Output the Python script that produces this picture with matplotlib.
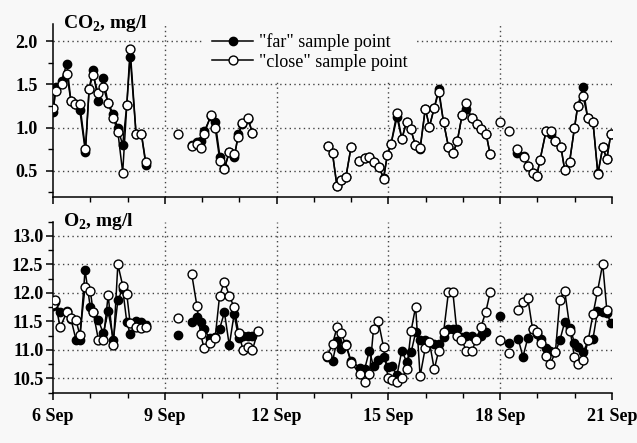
import numpy as np
import matplotlib
matplotlib.use("Agg")
import matplotlib.pyplot as plt
from matplotlib.ticker import MultipleLocator, FuncFormatter, FormatStrFormatter
from matplotlib.lines import Line2D

# sampling times in days of September; None breaks the line between sampling runs
co2_days = [6.01, 6.07, 6.23, 6.37, 6.48, 6.60, 6.72, 6.87, 6.97, 7.07, 7.21, 7.35, 7.48, 7.62,
            7.74, 7.87, 7.98, 8.07, 8.23, 8.37, 8.49, None,
            9.35, None,
            9.72, 9.86, 9.97, 10.06, 10.24, 10.35, 10.48, 10.60, 10.73, 10.87, 10.97, 11.07, 11.23, 11.35, None,
            13.37, 13.50, 13.62, 13.73, 13.86, 14.00, None,
            14.22, 14.36, 14.48, 14.62, 14.75, 14.87, 14.97, 15.07, 15.23, 15.36, 15.49, 15.60, 15.72, 15.85,
            15.99, 16.10, 16.23, 16.35, 16.48, 16.61, 16.74, 16.85, 16.98, 17.07, 17.24, 17.37, 17.49, 17.62,
            17.73, None,
            18.00, None, 18.24, None,
            18.46, 18.63, 18.74, 18.87, 18.98, 19.07, 19.23, 19.37, 19.48, 19.63, 19.73, 19.86, 19.99, 20.08,
            20.22, 20.35, 20.49, 20.62, 20.75, 20.86, 20.97]
co2_far = [1.18, 1.47, 1.54, 1.74, 1.31, 1.27, 1.20, 0.72, 1.45, 1.67, 1.31, 1.57, 1.28, 1.16,
           0.99, 0.80, 1.26, 1.82, 0.92, 0.93, 0.57, None,
           None, None,
           0.80, 0.83, 0.84, 0.96, 1.13, 1.07, 0.66, 0.53, 0.72, 0.66, 0.93, 1.04, 1.10, 0.94, None,
           0.79, 0.70, 0.32, 0.39, 0.43, 0.78, None,
           0.61, 0.65, 0.66, 0.60, 0.54, 0.42, 0.68, 0.81, 1.12, 0.87, 1.07, 0.98, 0.80, 0.75,
           1.22, 1.01, 1.23, 1.45, 1.06, 0.78, 0.71, 0.85, 1.15, 1.21, 1.11, 1.04, 0.98, 0.93,
           0.69, None,
           None, None, None, None,
           0.71, 0.67, 0.55, 0.48, 0.44, 0.63, 0.96, 0.93, 0.84, 0.77, 0.51, 0.60, 0.99, 1.25,
           1.47, 1.11, 1.06, 0.47, 0.77, 0.64, 0.93]
co2_close = [1.23, 1.42, 1.50, 1.62, 1.31, 1.27, 1.27, 0.75, 1.45, 1.61, 1.40, 1.47, 1.28, 1.11,
             0.95, 0.48, 1.26, 1.91, 0.92, 0.93, 0.60, None,
             0.92, None,
             0.79, 0.81, 0.76, 0.93, 1.15, 1.00, 0.61, 0.52, 0.72, 0.69, 0.89, 1.05, 1.11, 0.94, None,
             0.79, 0.70, 0.32, 0.39, 0.43, 0.78, None,
             0.61, 0.65, 0.66, 0.60, 0.54, 0.41, 0.68, 0.81, 1.17, 0.87, 1.07, 0.98, 0.80, 0.76,
             1.22, 1.01, 1.23, 1.41, 1.06, 0.78, 0.70, 0.85, 1.15, 1.28, 1.11, 1.04, 0.98, 0.93,
             0.69, None,
             1.07, None, 0.96, None,
             0.75, 0.66, 0.55, 0.48, 0.44, 0.63, 0.96, 0.96, 0.84, 0.77, 0.51, 0.60, 0.99, 1.25,
             1.37, 1.11, 1.06, 0.46, 0.77, 0.64, 0.93]

o2_days = [6.01, 6.05, 6.19, 6.37, 6.48, 6.62, 6.72, 6.86, 7.00, 7.08, 7.22, 7.35, 7.48, 7.62,
           7.74, 7.87, 7.98, 8.07, 8.23, 8.37, 8.49, None,
           9.35, None,
           9.72, 9.86, 9.96, 10.05, 10.21, 10.35, 10.47, 10.60, 10.73, 10.86, 10.98, 11.10, 11.22, 11.35,
           11.50, None,
           13.35, 13.50, 13.62, 13.73, 13.86, 14.00, 14.24, 14.36, 14.49, 14.60, 14.73, 14.87, 14.99, 15.09,
           15.23, 15.36, 15.49, 15.61, 15.73, 15.85, 15.99, 16.10, 16.23, 16.35, 16.48, 16.61, 16.73, 16.85,
           16.96, 17.09, 17.24, 17.36, 17.48, 17.61, 17.73, None,
           18.00, None, 18.24, None,
           18.48, 18.61, 18.74, 18.87, 18.99, 19.09, 19.22, 19.34, 19.48, 19.60, 19.73, 19.88, 19.99, 20.08,
           20.23, 20.36, 20.49, 20.61, 20.75, 20.86, 20.97]
o2_far = [11.78, 11.85, 11.66, 11.68, 11.55, 11.17, 11.17, 12.40, 11.75, 11.66, 11.52, 11.29, 11.68, 11.18,
          11.87, 12.07, 11.49, 11.28, 11.50, 11.49, 11.44, None,
          11.27, None,
          11.49, 11.57, 11.49, 11.36, 11.21, 11.22, 11.37, 11.66, 11.08, 11.63, 11.21, 11.24, 11.24, 11.25,
          None, None,
          10.87, 10.80, 11.16, 11.02, 11.10, 10.80, 10.69, 10.66, 10.99, 10.71, 10.82, 10.88, 10.70, 10.71,
          10.56, 10.99, 10.79, 10.96, 11.31, 11.18, 11.18, 11.12, 11.10, 11.11, 11.23, 11.36, 11.36, 11.36,
          11.23, 11.24, 11.24, 11.20, 11.24, 11.31, None, None,
          11.59, None, 11.13, None,
          11.20, 10.88, 11.21, 11.37, 11.28, 11.20, 11.03, 10.99, 10.96, 11.17, 11.49, 11.39, 11.12, 11.05,
          10.96, 11.17, 11.20, 11.68, 11.66, 11.65, 11.47]
o2_close = [11.80, 11.88, 11.40, 11.66, 11.56, 11.52, 11.26, 12.10, 12.04, 11.66, 11.17, 11.18, 11.96, 11.08,
            12.50, 12.13, 11.98, 11.47, 11.40, 11.38, 11.40, None,
            11.56, None,
            12.34, 11.78, 11.28, 11.04, 11.13, 11.21, 11.95, 12.20, 11.95, 11.75, 11.30, 11.00, 11.05, 11.00,
            11.33, None,
            10.89, 11.10, 11.40, 11.30, 11.08, 10.78, 10.57, 10.44, 10.57, 11.37, 11.50, 11.05, 10.50, 10.48,
            10.44, 10.50, 10.66, 11.34, 11.76, 10.54, 11.04, 11.14, 10.66, 10.99, 11.31, 12.01, 12.01, 11.24,
            11.18, 10.99, 10.99, 11.18, 11.40, 11.66, 12.01, None,
            11.18, None, 10.94, None,
            11.71, 11.85, 11.91, 11.36, 11.31, 11.12, 10.89, 10.75, 10.96, 11.88, 12.04, 11.33, 10.88, 10.75,
            10.82, 11.17, 11.63, 12.03, 12.51, 11.70, None]

day_ticks = [6, 9, 12, 15, 18, 21]

plt.rcParams["font.family"] = "Liberation Serif"
plt.rcParams["font.weight"] = "bold"
plt.rcParams["mathtext.fontset"] = "custom"
plt.rcParams["mathtext.rm"] = "Liberation Serif"
plt.rcParams["mathtext.bf"] = "Liberation Serif:bold"

bg = "#f8f8f8"
fig = plt.figure(figsize=(6.37, 4.43), dpi=100, facecolor=bg)
ax1 = fig.add_axes([0.0832, 0.556, 0.8776, 0.390])
ax2 = fig.add_axes([0.0832, 0.1135, 0.8776, 0.386])

dots = (0, (1, 2.4))


def draw_panel(ax, days, far, close, ylim, title, show_dates, label_pad):
    t = np.array(days, dtype=float)
    ax.set_facecolor(bg)
    ax.plot(t, np.array(far, dtype=float), "-o", color="k", lw=1.1, ms=6,
            mfc="k", mec="k", mew=1.0, zorder=3)
    ax.plot(t, np.array(close, dtype=float), "-o", color="k", lw=1.1, ms=6.4,
            mfc="white", mec="k", mew=1.0, zorder=4)
    ax.set_xlim(6, 21)
    ax.set_ylim(*ylim)
    for s in ("top", "right"):
        ax.spines[s].set_visible(False)
    for s in ("left", "bottom"):
        ax.spines[s].set_linewidth(1.1)
    ax.xaxis.set_major_locator(MultipleLocator(3))
    ax.xaxis.set_minor_locator(MultipleLocator(1))
    ax.yaxis.set_major_locator(MultipleLocator(0.5))
    ax.yaxis.set_minor_locator(MultipleLocator(0.25))
    ax.yaxis.set_major_formatter(FormatStrFormatter("%.1f"))
    ax.xaxis.set_major_formatter(FuncFormatter(lambda v, p: "%d Sep" % round(v)))
    ax.tick_params(which="major", direction="out", length=5, width=1.1, labelsize=13)
    ax.tick_params(which="minor", direction="out", length=3.5, width=1.0)
    ax.tick_params(axis="y", pad=label_pad)
    ax.tick_params(axis="x", pad=6, labelbottom=show_dates)
    ax.yaxis.grid(True, which="major", linestyle=dots, color="#444444", lw=1.0, zorder=1)
    for d in day_ticks[1:-1]:
        ax.axvline(d, linestyle=dots, color="#444444", lw=1.0, zorder=1)
    ax.text(0.018, 1.0, title, transform=ax.transAxes, ha="left", va="center",
            fontsize=14, fontweight="bold", zorder=6)


draw_panel(ax1, co2_days, co2_far, co2_close, (0.2, 2.2), r"CO$_\mathbf{2}$, mg/l", False, 6)
draw_panel(ax2, o2_days, o2_far, o2_close, (10.25, 13.25), r"O$_\mathbf{2}$, mg/l", True, 2)

handles = [
    Line2D([], [], color="k", lw=1.1, marker="o", ms=6, mfc="k", mec="k"),
    Line2D([], [], color="k", lw=1.1, marker="o", ms=6.4, mfc="white", mec="k"),
]
leg = ax1.legend(handles, ['"far" sample point', '"close" sample point'],
                 loc="upper left", bbox_to_anchor=(0.268, 1.0), borderaxespad=0,
                 borderpad=0.5, handlelength=2.3, handletextpad=0.3, labelspacing=0.15,
                 prop={"family": "Liberation Serif", "weight": "normal", "size": 13},
                 facecolor=bg, edgecolor="none", framealpha=1, fancybox=False)
leg.set_zorder(10)

fig.savefig("out.png", dpi=100, facecolor=bg)
